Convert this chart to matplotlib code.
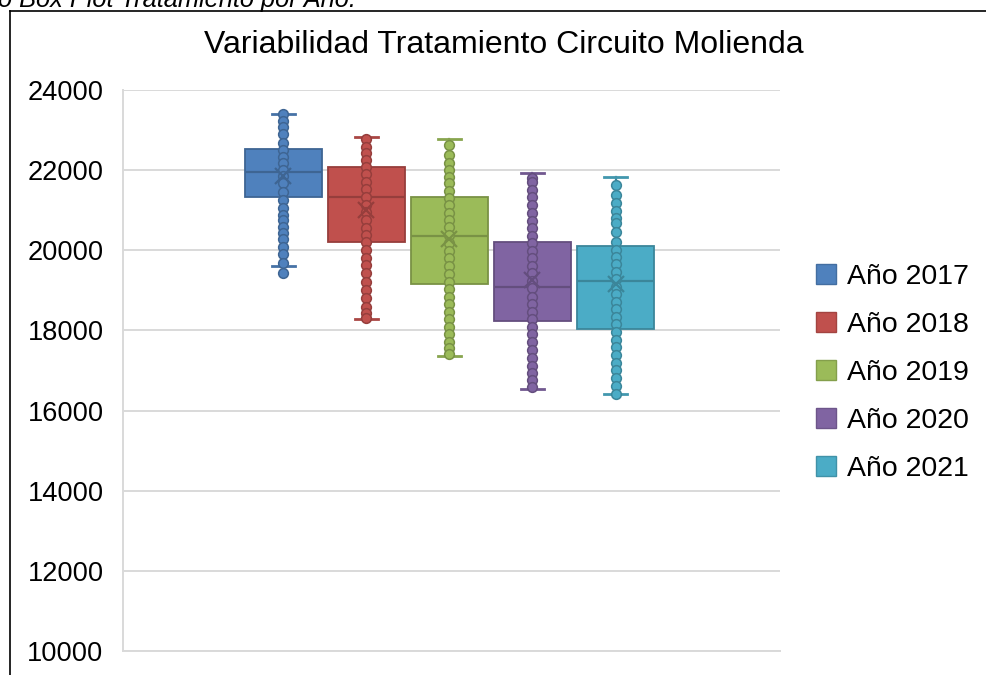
import matplotlib
matplotlib.use("Agg")
import matplotlib.pyplot as plt
import matplotlib.colors as mcolors
from matplotlib.lines import Line2D
from matplotlib.patches import Patch

plt.rcParams['font.family'] = ['Liberation Sans', 'DejaVu Sans']

# Series labels and colours
years = ["Año 2017", "Año 2018", "Año 2019", "Año 2020", "Año 2021"]
colors = ["#4F81BD", "#C0504D", "#9BBB59", "#8064A2", "#4BACC6"]

# Box statistics per year (tonnes)
whisker_low = [19615, 18285, 17370, 16547, 16412]
q1 = [21320, 20200, 19160, 18235, 18043]
median = [21960, 21340, 20365, 19075, 19233]
q3 = [22528, 22070, 21320, 20200, 20106]
whisker_high = [23400, 22820, 22777, 21936, 21836]
mean = [21850, 21000, 20270, 19260, 19150]
outliers = [[19440], [], [], [], []]

# Individual observations shown as inner points
points_2017 = [23401, 23234, 23084, 22902, 22685, 22502, 22335, 22170, 22003,
               21853, 21671, 21462, 21254, 21047, 20880, 20755, 20588, 20423,
               20273, 20089, 19906, 19674]
points_2018 = [22777, 22585, 22420, 22253, 22086, 21896, 21711, 21529, 21337,
               21130, 20947, 20755, 20563, 20381, 20199, 20006, 19814, 19632,
               19425, 19215, 19008, 18801, 18591, 18434, 18302]
points_2019 = [22627, 22378, 22185, 22003, 21836, 21671, 21487, 21297, 21130,
               20937, 20755, 20573, 20381, 20189, 19989, 19799, 19607, 19408,
               19215, 19026, 18841, 18659, 18467, 18277, 18092, 17910, 17718,
               17553, 17411]
points_2020 = [21811, 21696, 21504, 21322, 21130, 20922, 20730, 20548, 20363,
               20174, 19981, 19799, 19616, 19425, 19233, 19051, 18841, 18651,
               18467, 18284, 18092, 17902, 17718, 17510, 17318, 17118, 16929,
               16762, 16580]
points_2021 = [21629, 21379, 21187, 20987, 20798, 20673, 20463, 20214, 20006,
               19824, 19657, 19465, 19275, 19090, 18908, 18716, 18526, 18342,
               18159, 17967, 17760, 17578, 17386, 17193, 17011, 16804, 16612,
               16412]
points = [points_2017, points_2018, points_2019, points_2020, points_2021]

y_ticks = [10000, 12000, 14000, 16000, 18000, 20000, 22000, 24000]


def darker(c, f=0.78):
    r, g, b = mcolors.to_rgb(c)
    return (r * f, g * f, b * f)


fig = plt.figure(figsize=(9.87, 6.75), dpi=100)
ax = fig.add_axes([0.1246, 0.0356, 0.6657, 0.8311])

positions = list(range(1, len(years) + 1))
for i, pos in enumerate(positions):
    stats = [{
        "whislo": whisker_low[i], "q1": q1[i], "med": median[i],
        "q3": q3[i], "whishi": whisker_high[i], "mean": mean[i],
        "fliers": outliers[i],
    }]
    dk = darker(colors[i])
    ax.bxp(stats, positions=[pos], widths=0.93, patch_artist=True,
           showmeans=False, showfliers=False,
           boxprops=dict(facecolor=colors[i], edgecolor=dk, linewidth=1.3),
           medianprops=dict(color=dk, linewidth=1.6),
           whiskerprops=dict(color=dk, linewidth=1.6),
           capprops=dict(color=darker(colors[i], 0.88), linewidth=2.0),
           capwidths=0.27, zorder=2)
    pts = points[i] + outliers[i]
    ax.plot([pos] * len(pts), pts, linestyle="none", marker="o",
            markersize=7.0, markerfacecolor=colors[i], markeredgecolor=dk,
            markeredgewidth=1.1, zorder=3)
    ax.plot([pos], [mean[i]], linestyle="none", marker="x", markersize=11,
            markeredgecolor=dk, markeredgewidth=1.6, zorder=4)

ax.set_xlim(-0.93, 6.98)
ax.set_ylim(10000, 24000)
ax.set_yticks(y_ticks)
ax.set_yticklabels([str(v) for v in y_ticks], fontsize=19.6)
ax.set_xticks([])
ax.tick_params(axis="y", length=0, pad=14)
ax.grid(axis="y", color="#d9d9d9", linewidth=1.4)
ax.set_axisbelow(True)
for side in ["top", "right"]:
    ax.spines[side].set_visible(False)
ax.spines["left"].set_color("#d9d9d9")
ax.spines["bottom"].set_color("#d9d9d9")
ax.spines["left"].set_linewidth(1.4)
ax.spines["bottom"].set_linewidth(1.4)

fig.text(0.5106, 0.9333, "Variabilidad Tratamiento Circuito Molienda",
         ha="center", va="center", fontsize=23)

handles = [Patch(facecolor=c, edgecolor=darker(c, 0.85), linewidth=1.0)
           for c in colors]
fig.legend(handles, years, loc="center left", bbox_to_anchor=(0.8267, 0.4476),
           frameon=False, fontsize=20.5, handlelength=0.7, handleheight=0.7,
           handletextpad=0.4, labelspacing=0.77, borderpad=0, borderaxespad=0)

# Caption above the framed chart
fig.text(-0.002, 1 - 7.5 / 675, "o Box Plot Tratamiento por Año.",
         ha="left", va="baseline", fontsize=18.3, style="italic")

# Frame around the chart
fig.add_artist(Line2D([10 / 987, 10 / 987], [0, 1 - 10.5 / 675],
                      transform=fig.transFigure, color="black", linewidth=1.2))
fig.add_artist(Line2D([10 / 987, 1], [1 - 10.5 / 675, 1 - 10.5 / 675],
                      transform=fig.transFigure, color="black", linewidth=1.2))

fig.savefig("out.png", dpi=100)
